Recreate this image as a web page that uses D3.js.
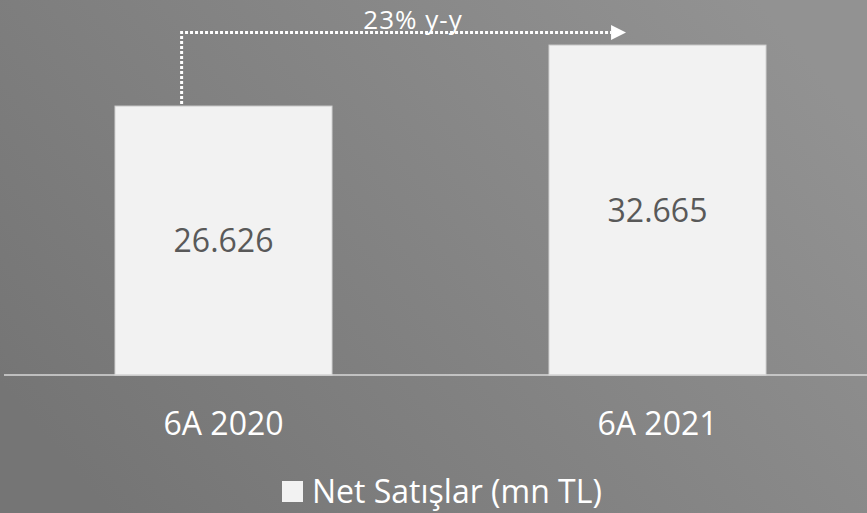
<!DOCTYPE html>
<html>
<head>
<meta charset="utf-8">
<script src="https://cdn.jsdelivr.net/npm/d3@7"></script>
<style>
  html, body { margin: 0; padding: 0; overflow: hidden; }
  svg { display: block; }
</style>
</head>
<body>
<svg id="chart" width="867" height="513"></svg>
<script>
const categories = ["6A 2020", "6A 2021"];
const values = [26.626, 32.665];
const valueLabels = ["26.626", "32.665"];
const seriesName = "Net Satışlar (mn TL)";
const growthLabel = "23% y-y";

const W = 867, H = 513;
const svg = d3.select("#chart");
const font = "'Open Sans', 'Noto Sans', sans-serif";

// background gradient
const defs = svg.append("defs");
const grad = defs.append("linearGradient").attr("id", "bg")
  .attr("x1", "0").attr("y1", "0.75").attr("x2", "1").attr("y2", "0.25");
grad.append("stop").attr("offset", "0").attr("stop-color", "#757575");
grad.append("stop").attr("offset", "1").attr("stop-color", "#929292");
svg.append("rect").attr("width", W).attr("height", H).attr("fill", "url(#bg)");

const baseY = 375;
const x = d3.scaleBand().domain(categories).range([6.5, 874.5])
  .paddingInner(0.5).paddingOuter(0.25);
const y = d3.scaleLinear().domain([0, 35]).range([baseY, baseY - 35 * 10.1]);

// bars
svg.selectAll("rect.bar").data(values).enter().append("rect")
  .attr("class", "bar")
  .attr("x", (d, i) => x(categories[i]))
  .attr("y", d => y(d))
  .attr("width", x.bandwidth())
  .attr("height", d => y(0) - y(d))
  .attr("fill", "#f2f2f2")
  .attr("stroke", "#d2d2d2")
  .attr("stroke-width", 1);

// value labels
svg.selectAll("text.val").data(values).enter().append("text")
  .attr("class", "val")
  .attr("x", (d, i) => x(categories[i]) + x.bandwidth() / 2)
  .attr("y", d => (y(d) + y(0)) / 2 + 11.5)
  .attr("text-anchor", "middle")
  .attr("font-family", font)
  .attr("font-size", 32)
  .attr("fill", "#595959")
  .text((d, i) => valueLabels[i]);

// baseline axis
const axis = d3.axisBottom(x).tickSize(0).tickPadding(0);
const gAxis = svg.append("g").attr("transform", `translate(0,${baseY})`).call(axis);
gAxis.select(".domain").remove();
gAxis.append("line").attr("x1", 4).attr("x2", W).attr("y1", 0).attr("y2", 0)
  .attr("stroke", "#d9d9d9").attr("stroke-width", 1.5);
gAxis.selectAll(".tick text")
  .attr("y", 60)
  .attr("dy", null)
  .attr("font-family", font)
  .attr("font-size", 32)
  .attr("fill", "#ffffff");

// growth arrow
const x0 = x(categories[0]) + x.bandwidth() * 0.307;
const x1 = x(categories[1]) + x.bandwidth() * 0.355;
const arrowY = 32.5;
defs.append("marker").attr("id", "arrow")
  .attr("viewBox", "0 0 10 10").attr("refX", 0).attr("refY", 5)
  .attr("markerWidth", 15).attr("markerHeight", 15)
  .attr("markerUnits", "userSpaceOnUse").attr("orient", "auto")
  .append("path").attr("d", "M0,0 L10,5 L0,10 Z").attr("fill", "#ffffff");
svg.append("path")
  .attr("d", `M${x0},${y(values[0]) - 2} L${x0},${arrowY} L${x1 - 15},${arrowY}`)
  .attr("fill", "none")
  .attr("stroke", "#ffffff")
  .attr("stroke-width", 3)
  .attr("stroke-dasharray", "3,2")
  .attr("marker-end", "url(#arrow)");
svg.append("text")
  .attr("x", 413).attr("y", 29)
  .attr("text-anchor", "middle")
  .attr("font-family", font)
  .attr("font-size", 26)
  .attr("letter-spacing", 1)
  .attr("fill", "#ffffff")
  .text(growthLabel);

// legend
const lg = svg.append("g").attr("transform", "translate(282,481)");
lg.append("rect").attr("width", 21).attr("height", 21).attr("fill", "#f2f2f2");
lg.append("text").attr("x", 30).attr("y", 22)
  .attr("font-family", font).attr("font-size", 32).attr("fill", "#ffffff")
  .text(seriesName);
</script>
</body>
</html>
